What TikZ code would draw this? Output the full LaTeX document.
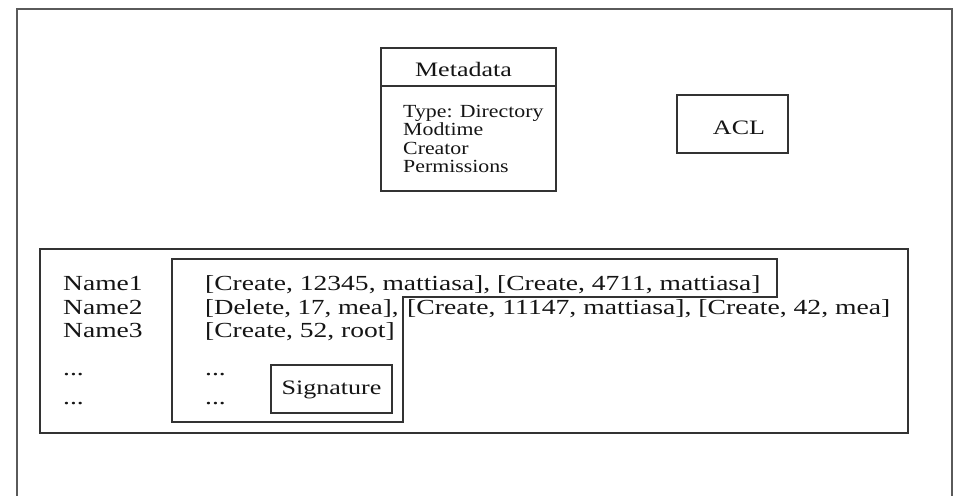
\documentclass[tikz,border=0pt]{standalone}
\usepackage{fontspec}
\usepackage{graphicx}
\setmainfont{Liberation Serif}
\definecolor{linegray}{HTML}{333333}
\definecolor{framegray}{HTML}{5A5A5A}
\definecolor{inkblack}{HTML}{151515}
% horizontally widened text, as in the original drawing
\newcommand{\widetxt}[1]{\scalebox{1.28}[1]{#1}}
\newcommand{\widesmall}[1]{\scalebox{1.18}[1]{#1}}
\newcommand{\widelabel}[1]{\scalebox{1.27}[1]{#1}}
\begin{document}
\begin{tikzpicture}[x=1pt,y=-1pt,
  box/.style={draw=linegray,line width=1.3pt},
  txt/.style={inner sep=0pt,anchor=base west,text=inkblack,
    font=\fontsize{21.5}{21.5}\selectfont},
  ctxt/.style={inner sep=0pt,anchor=base,text=inkblack,
    font=\fontsize{20.5}{20.5}\selectfont},
  smalltxt/.style={inner sep=0pt,anchor=base west,text=inkblack,
    font=\fontsize{18.5}{18.5}\selectfont}]
\useasboundingbox (0,0) rectangle (957,495);
\fill[white] (0,0) rectangle (957,495);

% outer frame, open at the bottom
\draw[framegray,line width=2pt] (17,500) -- (17,9) -- (952,9) -- (952,500);

% metadata box
\draw[box] (381,48) rectangle (556,191);
\draw[box] (381,86) -- (556,86);
\node[ctxt] (mdtitle) at (463.5,76.5) {\widelabel{Metadata}};
\node[smalltxt] (mdtype) at (403,117) {\widesmall{Type: Directory}};
\node[smalltxt] (mdmod) at (403,135.5) {\widesmall{Modtime}};
\node[smalltxt] (mdcre) at (403,154) {\widesmall{Creator}};
\node[smalltxt] (mdperm) at (403,172.5) {\widesmall{Permissions}};

% ACL box
\draw[box] (677,95) rectangle (788,153);
\node[ctxt] (acl) at (739,134) {\widelabel{ACL}};

% directory table
\draw[box] (40,249) rectangle (908,433);
\draw[box] (172,259) -- (777,259) -- (777,297) -- (403,297)
  -- (403,422) -- (172,422) -- cycle;

\node[txt] (n1) at (63,290) {\widetxt{Name1}};
\node[txt] (n2) at (63,314) {\widetxt{Name2}};
\node[txt] (n3) at (63,337) {\widetxt{Name3}};
\node[txt] (n4) at (63,375) {\widetxt{...}};
\node[txt] (n5) at (63,404) {\widetxt{...}};

\node[txt] (e1) at (205,290) {\widetxt{[Create, 12345, mattiasa], [Create, 4711, mattiasa]}};
\node[txt] (e2a) at (205,314) {\scalebox{1.25}[1]{[Delete, 17, mea],}};
\node[txt] (e2b) at (407,314) {\scalebox{1.286}[1]{[Create, 11147, mattiasa], [Create, 42, mea]}};
\node[txt] (e3) at (205,337) {\widetxt{[Create, 52, root]}};
\node[txt] (e4) at (205,375) {\widetxt{...}};
\node[txt] (e5) at (205,404) {\widetxt{...}};

% signature box
\draw[box] (271,365) rectangle (392,413);
\node[ctxt] (sig) at (331.5,394) {\widelabel{Signature}};
\end{tikzpicture}
\end{document}
